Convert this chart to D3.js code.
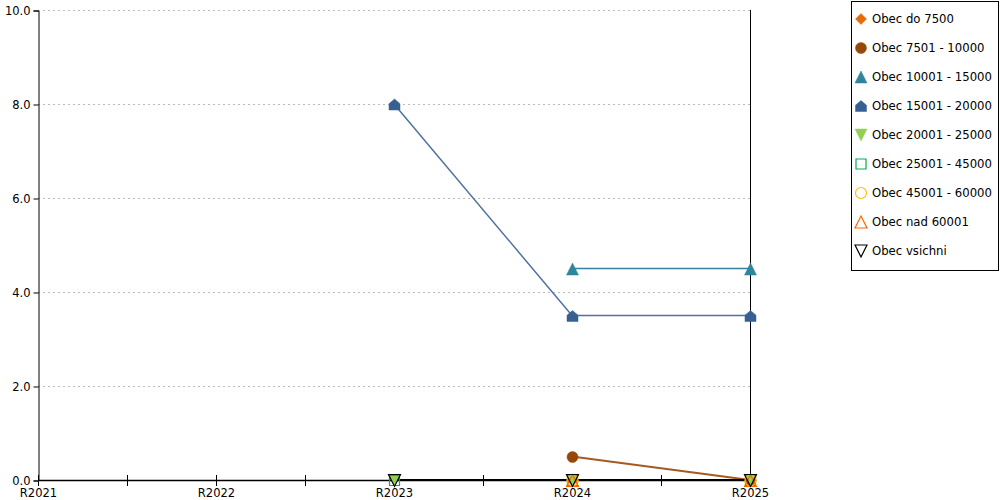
<!DOCTYPE html>
<html>
<head>
<meta charset="utf-8">
<script src="https://cdn.jsdelivr.net/npm/d3@7"></script>
<style>
  body { margin: 0; background: #fff; }
  svg text { font-family: "DejaVu Sans", sans-serif; font-size: 11.5px; fill: #000; }
</style>
</head>
<body>
<div id="chart"></div>
<script>
// categories and values
const years = ["R2021", "R2022", "R2023", "R2024", "R2025"];
const seriesNames = ["Obec do 7500", "Obec 7501 - 10000", "Obec 10001 - 15000", "Obec 15001 - 20000",
  "Obec 20001 - 25000", "Obec 25001 - 45000", "Obec 45001 - 60000", "Obec nad 60001", "Obec vsichni"];
const valsDo7500 = [null, null, null, 0, 0];
const vals7501 = [null, null, null, 0.5, 0];
const vals10001 = [null, null, null, 4.5, 4.5];
const vals15001 = [null, null, 8.0, 3.5, 3.5];
const vals20001 = [null, null, 0, 0, 0];
const vals25001 = [null, null, 0, 0, 0];
const vals45001 = [null, null, null, 0, 0];
const vals60001 = [null, null, null, 0, 0];
const valsVsichni = [null, null, 0, 0, 0];
const yTicks = [0, 2, 4, 6, 8, 10];

const allVals = [valsDo7500, vals7501, vals10001, vals15001, vals20001, vals25001, vals45001, vals60001, valsVsichni];

// styling per series: marker shape, marker colour, filled or not, line colour/width
const styles = [
  { shape: "diamond", color: "#e46c0a", fill: true, line: "#e46c0a", lw: 1.5 },
  { shape: "circle", color: "#974806", fill: true, line: "#a65a1e", lw: 2 },
  { shape: "triangle", color: "#31849b", fill: true, line: "#31849b", lw: 1.6 },
  { shape: "house", color: "#366092", fill: true, line: "#4f72a3", lw: 1.5 },
  { shape: "triangleDown", color: "#92d050", fill: true, line: "#92d050", lw: 1.5 },
  { shape: "square", color: "#00b050", fill: false, line: "#00b050", lw: 1.5 },
  { shape: "circle", color: "#ffc000", fill: false, line: "#ffc000", lw: 1.5 },
  { shape: "triangle", color: "#ff6600", fill: false, line: "#ff6600", lw: 1.5 },
  { shape: "triangleDown", color: "#000000", fill: false, line: "#000000", lw: 2 }
];

const width = 1000, height = 500;
const plot = { left: 38, right: 750, top: 10, bottom: 480 };

const svg = d3.select("#chart").append("svg")
  .attr("width", width)
  .attr("height", height);

const x = d3.scalePoint().domain(years).range([plot.left, plot.right]);
const y = d3.scaleLinear().domain([0, 10]).range([plot.bottom, plot.top]);

// marker path builder, centred on 0,0
function markerPath(shape, s) {
  const h = s / 2;
  switch (shape) {
    case "diamond": return `M0,${-h}L${h},0L0,${h}L${-h},0Z`;
    case "circle": {
      const p = d3.path(); p.arc(0, 0, h, 0, 2 * Math.PI); p.closePath(); return p.toString();
    }
    case "triangle": return `M0,${-h}L${h},${h}L${-h},${h}Z`;
    case "triangleDown": return `M${-h},${-h}L${h},${-h}L0,${h}Z`;
    case "square": return `M${-h + 0.5},${-h + 0.5}H${h - 0.5}V${h - 0.5}H${-h + 0.5}Z`;
    case "house": return `M0,${-h}L${h},${-h * 0.15}V${h}H${-h}V${-h * 0.15}Z`;
  }
}
const markerSize = shape => (shape === "triangle" || shape === "triangleDown") ? 12 : 11;

// gridlines
svg.append("g")
  .selectAll("line")
  .data(yTicks.filter(d => d > 0))
  .join("line")
  .attr("x1", plot.left)
  .attr("x2", plot.right)
  .attr("y1", d => y(d) + 0.5)
  .attr("y2", d => y(d) + 0.5)
  .attr("stroke", "#bbbbbb")
  .attr("stroke-dasharray", "2,3");

// y axis
const yAxis = d3.axisLeft(y)
  .tickValues(yTicks)
  .tickSize(5)
  .tickPadding(3)
  .tickFormat(d3.format(".1f"));
const gy = svg.append("g")
  .attr("transform", `translate(${plot.left + 0.5},0.5)`)
  .call(yAxis);
gy.select(".domain").attr("stroke", "#000");
gy.selectAll(".tick line").attr("stroke", "#000");
gy.selectAll("text").style("font-family", "DejaVu Sans").style("font-size", "11.5px");

// right border line
svg.append("line")
  .attr("x1", plot.right + 0.5).attr("x2", plot.right + 0.5)
  .attr("y1", plot.top).attr("y2", plot.bottom)
  .attr("stroke", "#000");

// x axis
const gx = svg.append("g");
gx.append("line")
  .attr("x1", plot.left).attr("x2", plot.right)
  .attr("y1", plot.bottom + 0.5).attr("y2", plot.bottom + 0.5)
  .attr("stroke", "#000").attr("stroke-width", 1.5);
const step = x.step();
const tickPos = [];
years.forEach((yr, i) => {
  tickPos.push(x(yr));
  if (i < years.length - 1) tickPos.push(x(yr) + step / 2);
});
gx.selectAll("line.tk")
  .data(tickPos)
  .join("line")
  .attr("class", "tk")
  .attr("x1", d => d + 0.5).attr("x2", d => d + 0.5)
  .attr("y1", plot.bottom - 5).attr("y2", plot.bottom + 6)
  .attr("stroke", "#000");
gx.selectAll("text")
  .data(years)
  .join("text")
  .attr("x", d => x(d) + 0.5)
  .attr("y", plot.bottom + 17)
  .attr("text-anchor", "middle")
  .text(d => d);

// lines
const line = d3.line()
  .defined(d => d.v !== null)
  .x(d => x(d.year))
  .y(d => y(d.v));

const seriesData = seriesNames.map((name, i) => ({
  name: name,
  style: styles[i],
  points: years.map((yr, j) => ({ year: yr, v: allVals[i][j] }))
}));

svg.append("g")
  .selectAll("path")
  .data(seriesData)
  .join("path")
  .attr("d", d => line(d.points))
  .attr("fill", "none")
  .attr("stroke", d => d.style.line)
  .attr("stroke-width", d => d.style.lw);

// markers
seriesData.forEach(s => {
  svg.append("g")
    .selectAll("path")
    .data(s.points.filter(p => p.v !== null))
    .join("path")
    .attr("transform", p => `translate(${x(p.year) + 0.5},${y(p.v) + 0.5})`)
    .attr("d", markerPath(s.style.shape, markerSize(s.style.shape)))
    .attr("fill", s.style.fill ? s.style.color : "none")
    .attr("stroke", s.style.color)
    .attr("stroke-width", s.style.fill ? 0.5 : 1.2);
});

// legend
const legend = svg.append("g");
legend.append("rect")
  .attr("x", 851.5).attr("y", 1.5)
  .attr("width", 147).attr("height", 269)
  .attr("fill", "#fff").attr("stroke", "#000");

const legendItems = legend.selectAll("g.item")
  .data(seriesData)
  .join("g")
  .attr("class", "item")
  .attr("transform", (d, i) => `translate(861,${19 + i * 29})`);

legendItems.append("path")
  .attr("d", d => markerPath(d.style.shape, markerSize(d.style.shape)))
  .attr("fill", d => d.style.fill ? d.style.color : "none")
  .attr("stroke", d => d.style.color)
  .attr("stroke-width", d => d.style.fill ? 0.5 : 1.2);

legendItems.append("text")
  .attr("x", 11)
  .attr("y", 4)
  .style("font-size", "11.7px")
  .text(d => d.name);
</script>
</body>
</html>
